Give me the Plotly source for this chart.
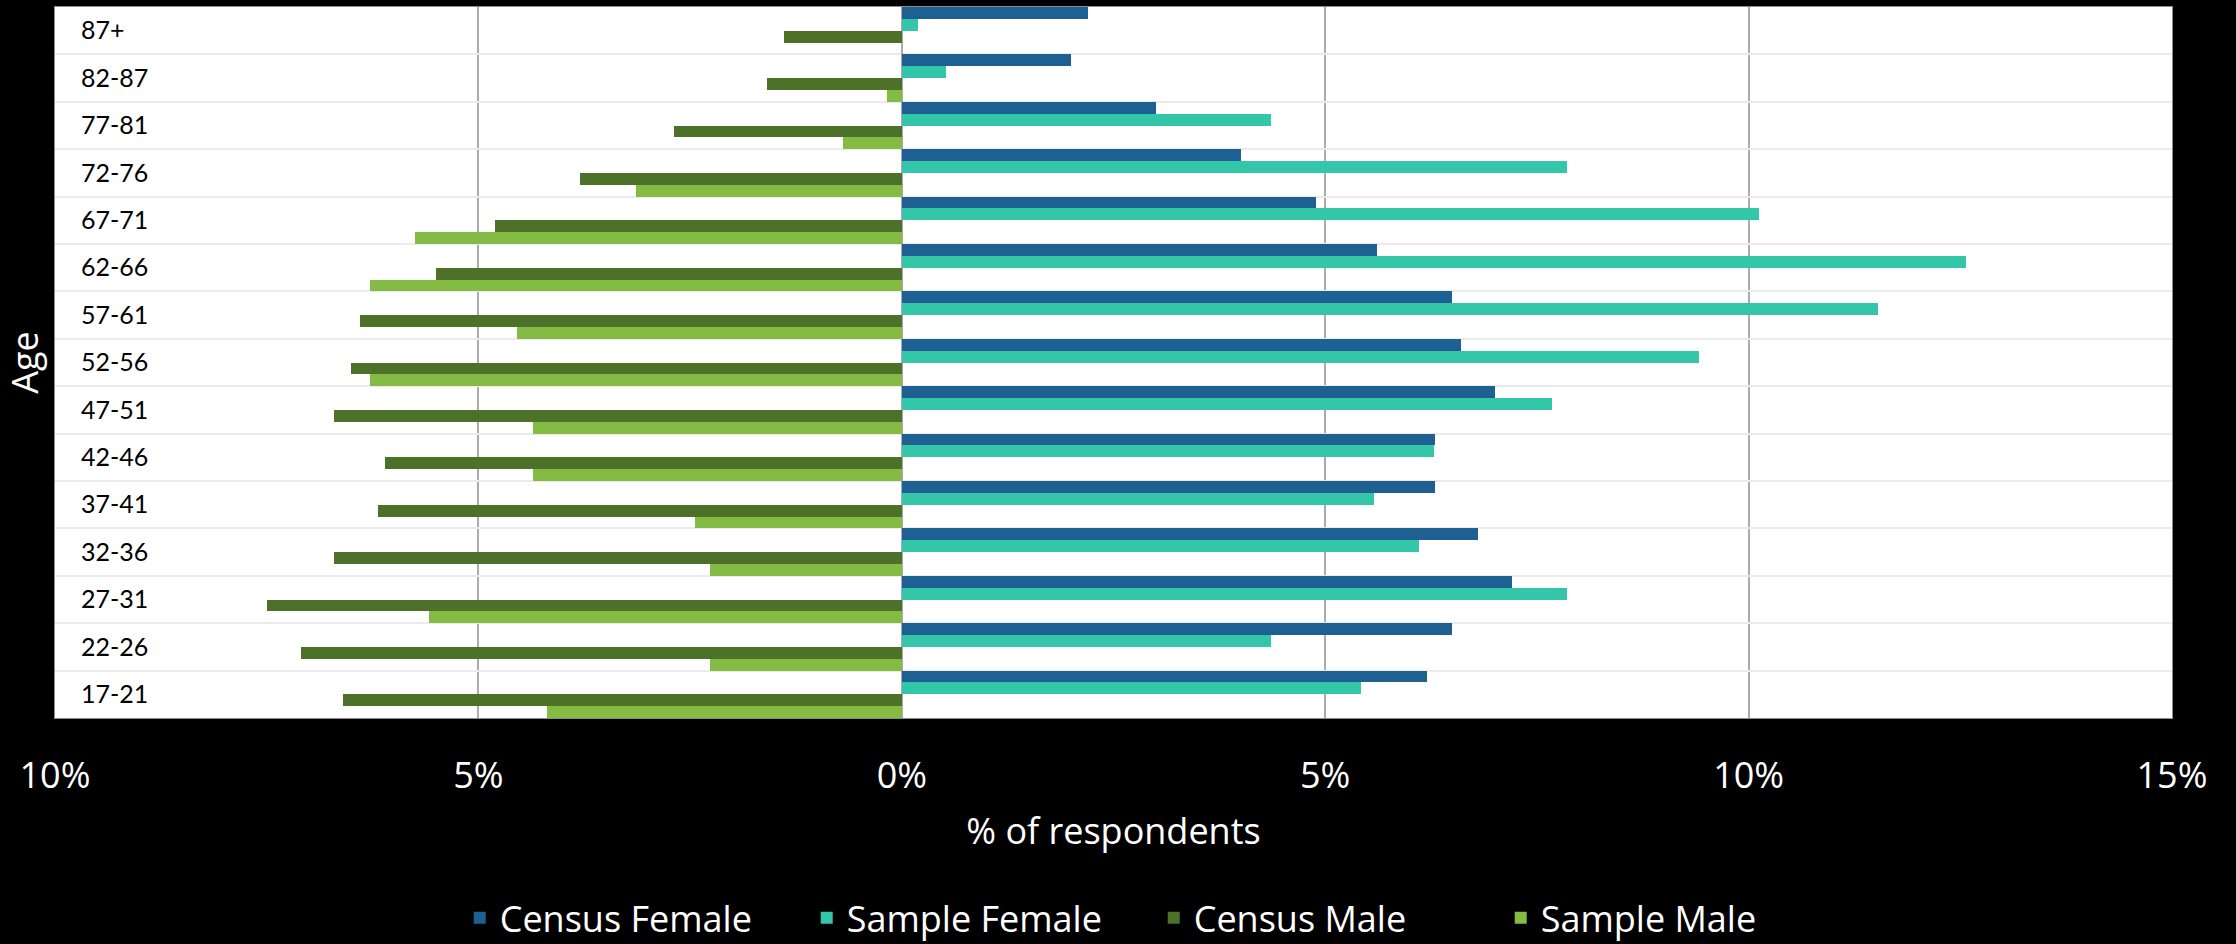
import plotly.graph_objects as go

age_groups = ["87+", "82-87", "77-81", "72-76", "67-71", "62-66", "57-61", "52-56",
              "47-51", "42-46", "37-41", "32-36", "27-31", "22-26", "17-21"]

census_female = [2.20, 2.00, 3.00, 4.00, 4.89, 5.61, 6.50, 6.60, 7.01, 6.30, 6.30, 6.80, 7.20, 6.50, 6.20]
sample_female = [0.19, 0.52, 4.36, 7.85, 10.12, 12.57, 11.53, 9.42, 7.68, 6.28, 5.58, 6.11, 7.85, 4.36, 5.42]
census_male = [-1.39, -1.59, -2.69, -3.80, -4.80, -5.50, -6.40, -6.50, -6.70, -6.10, -6.19, -6.70, -7.50, -7.10, -6.60]
sample_male = [0.0, -0.17, -0.69, -3.14, -5.75, -6.28, -4.54, -6.28, -4.36, -4.36, -2.44, -2.27, -5.58, -2.27, -4.19]

x_tickvals = [-10, -5, 0, 5, 10, 15]
x_ticktext = ["10%", "5%", "0%", "5%", "10%", "15%"]

series = [
    ("Census Female", census_female, "#1F6093"),
    ("Sample Female", sample_female, "#33C6A9"),
    ("Census Male", census_male, "#4E7129"),
    ("Sample Male", sample_male, "#83BB44"),
]

n_groups = len(age_groups)

fig = go.Figure()
for name, vals, color in series:
    fig.add_trace(go.Bar(
        y=age_groups, x=vals, name=name, orientation="h",
        marker=dict(color=color, line=dict(width=0)),
    ))

# empty helper trace so that the label axis (y2, left-aligned category labels) is drawn
fig.add_trace(go.Scatter(
    x=[None], y=[None], xaxis="x", yaxis="y2", mode="markers",
    showlegend=False, hoverinfo="skip",
))

fig.update_layout(
    width=2236, height=944,
    paper_bgcolor="black",
    plot_bgcolor="white",
    barmode="group",
    bargap=0.0,
    bargroupgap=0.0,
    margin=dict(l=55, r=64, t=7, b=226, autoexpand=False),
    font=dict(family="Open Sans", color="white", size=36),
    legend=dict(
        orientation="h", x=0.519, xanchor="center", y=-0.281, yanchor="middle",
        font=dict(family="Open Sans", size=36, color="white"),
        bgcolor="rgba(0,0,0,0)",
        entrywidth=302, entrywidthmode="pixels",
    ),
    showlegend=True,
    xaxis=dict(
        range=[-10, 15],
        tickvals=x_tickvals, ticktext=x_ticktext,
        tickfont=dict(family="Open Sans", size=36, color="white"),
        ticks="", ticklabelstandoff=26,
        showgrid=True, gridcolor="#ABABAB", gridwidth=1.5,
        zeroline=True, zerolinecolor="#ABABAB", zerolinewidth=1.5,
        showline=True, linecolor="#8C8C8C", linewidth=1, mirror=True,
        title=dict(text="% of respondents", font=dict(family="Open Sans", size=36, color="white"), standoff=20),
        automargin=False,
        fixedrange=True,
    ),
    yaxis=dict(
        type="category",
        categoryorder="array", categoryarray=age_groups,
        autorange="reversed",
        tickson="boundaries",
        ticks="",
        showticklabels=False,
        showgrid=True, gridcolor="#EBEBEB", gridwidth=2,
        showline=True, linecolor="#8C8C8C", linewidth=1, mirror=True,
        title=dict(text="Age", font=dict(family="Open Sans", size=36, color="white"), standoff=21),
        automargin=False,
        fixedrange=True,
    ),
    yaxis2=dict(
        type="linear",
        range=[n_groups - 0.5, -0.5],
        tickmode="array",
        tickvals=list(range(n_groups)),
        ticktext=age_groups,
        overlaying="y", anchor="x", side="right",
        ticks="",
        ticklabelposition="outside",
        ticklabelstandoff=-2092,
        tickfont=dict(family="Lato", size=25, color="black"),
        showgrid=False,
        zeroline=False,
        showline=False,
        automargin=False,
        fixedrange=True,
    ),
)

fig.write_html("out.html", config={"displayModeBar": False},
               post_script="document.body.style.margin='0px';")
